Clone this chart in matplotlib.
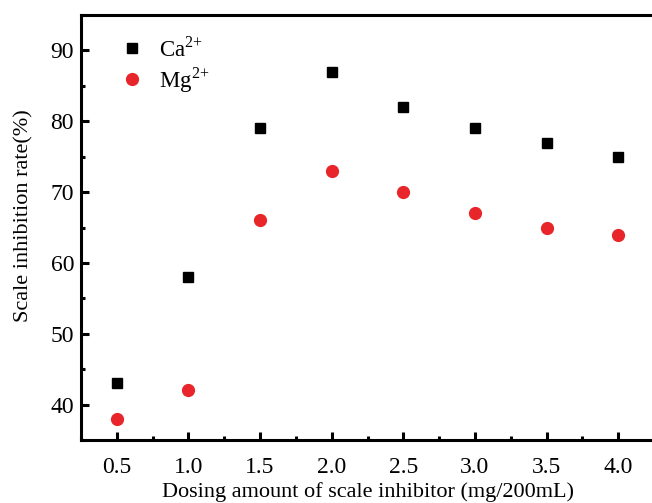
import numpy as np
import matplotlib.pyplot as plt
from matplotlib.ticker import MultipleLocator

# Dosis de inhibidor y tasas de inhibicion para cada ion
dosis = [0.5, 1.0, 1.5, 2.0, 2.5, 3.0, 3.5, 4.0]
tasa_ca = [43, 58, 79, 87, 82, 79, 77, 75]
tasa_mg = [38, 42, 66, 73, 70, 67, 65, 64]

plt.rcParams['font.family'] = ['Liberation Serif', 'DejaVu Serif']
plt.rcParams['mathtext.fontset'] = 'custom'
plt.rcParams['mathtext.rm'] = 'Liberation Serif'

fig = plt.figure(figsize=(6.52, 5.03), dpi=100)
ax = fig.add_axes([81/652, 63/503, 573/652, 425/503])

ax.plot(dosis, tasa_ca, 's', color='black', ms=7.5, label=r'Ca$^{\mathrm{2{+}}}$')
ax.plot(dosis, tasa_mg, 'o', color='#e8252b', ms=8.5, label=r'Mg$^{\mathrm{2{+}}}$')

ax.set_xlim(0.25, 4.25)
ax.set_ylim(35, 95)
ax.xaxis.set_minor_locator(MultipleLocator(0.25))
ax.yaxis.set_major_locator(MultipleLocator(10))
ax.yaxis.set_minor_locator(MultipleLocator(5))
ax.set_xticks(dosis)
ax.set_xticklabels(['%.1f' % d for d in dosis])

for s in ax.spines.values():
    s.set_linewidth(2.2)
ax.tick_params(which='major', direction='in', length=6, width=2.2, labelsize=17)
ax.tick_params(which='minor', direction='in', length=3, width=2.2)
ax.tick_params(axis='x', pad=12)
ax.tick_params(axis='y', pad=5)

ax.set_xlabel('Dosing amount of scale inhibitor (mg/200mL)', fontsize=16, labelpad=3)
ax.set_ylabel('Scale inhibition rate(%)', fontsize=16)
ax.yaxis.set_label_coords(-0.083, 0.527)

ax.legend(loc='upper left', frameon=False, fontsize=16.5, handletextpad=0.5,
          handlelength=1.4, borderaxespad=0, bbox_to_anchor=(0.045, 0.97),
          labelspacing=0.15)

fig.savefig('out.png', dpi=100)
